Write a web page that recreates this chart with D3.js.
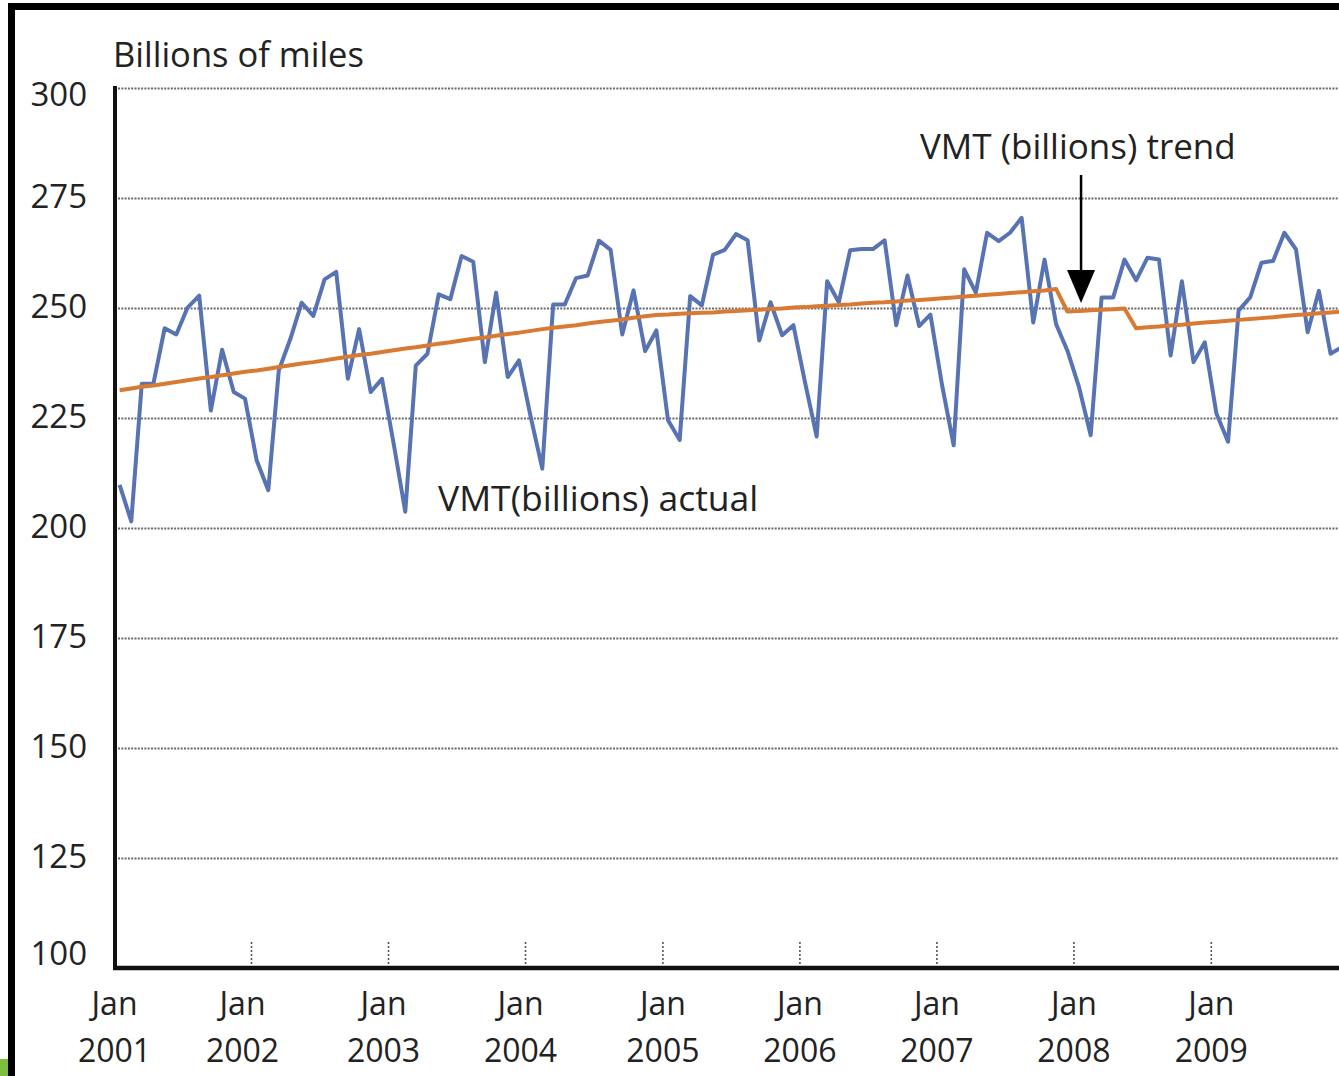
<!DOCTYPE html>
<html>
<head>
<meta charset="utf-8">
<script src="https://cdn.jsdelivr.net/npm/d3@7"></script>
<style>
  body { margin: 0; background: #fff; }
  #chart1 svg { display: block; }
  text { font-family: "Open Sans", sans-serif; fill: #222; }
</style>
</head>
<body>
<div id="chart1"></div>
<script>

// ================================ data (monthly, Jan 2001 - Dec 2009)
var startYear = 2001;

// VMT (billions) actual
var actualVmt = [
  209.8, 201.5, 232.8, 232.8, 245.4, 244.0, 250.1, 252.8, 226.7, 240.5, 230.9, 229.4, // 2001
  215.4, 208.6, 235.8, 243.0, 251.2, 248.2, 256.5, 258.2, 233.9, 245.2, 230.9, 233.9, // 2002
  219.2, 203.7, 236.9, 239.6, 253.1, 252.0, 261.8, 260.5, 237.7, 253.5, 234.3, 238.1, // 2003
  225.3, 213.5, 250.8, 250.8, 256.8, 257.4, 265.3, 263.2, 244.0, 254.0, 240.2, 244.9, // 2004
  224.5, 220.0, 252.7, 250.6, 262.1, 263.2, 266.8, 265.4, 242.6, 251.3, 243.8, 246.1, // 2005
  233.1, 220.8, 256.1, 251.3, 263.1, 263.4, 263.4, 265.4, 246.1, 257.4, 245.9, 248.5, // 2006
  232.5, 218.8, 258.8, 253.5, 267.1, 265.2, 267.1, 270.5, 246.7, 261.0, 246.3, 240.3, // 2007
  232.0, 221.1, 252.4, 252.4, 261.0, 256.3, 261.4, 261.0, 239.2, 256.1, 237.7, 242.2, // 2008
  226.0, 219.6, 249.4, 252.4, 260.3, 260.7, 267.1, 263.3, 244.5, 253.9, 239.6, 241.1  // 2009
];

// VMT (billions) trend
var trendVmt = [
  231.3, 231.7, 232.1, 232.4, 232.8, 233.2, 233.6, 234.0, 234.3, 234.7, 235.1, 235.5,
  235.8, 236.2, 236.6, 237.0, 237.4, 237.7, 238.1, 238.5, 238.9, 239.3, 239.6, 240.0,
  240.4, 240.8, 241.1, 241.5, 241.9, 242.2, 242.6, 243.0, 243.3, 243.7, 244.1, 244.4,
  244.8, 245.2, 245.5, 245.8, 246.1, 246.5, 246.8, 247.1, 247.4, 247.8, 248.1, 248.4,
  248.5, 248.7, 248.8, 248.9, 249.0, 249.2, 249.3, 249.5, 249.6, 249.8, 249.9, 250.1,
  250.2, 250.4, 250.5, 250.7, 250.8, 251.0, 251.2, 251.3, 251.5, 251.7, 251.8, 252.0,
  252.2, 252.4, 252.6, 252.8, 253.0, 253.2, 253.4, 253.6, 253.8, 254.0, 254.3, 249.2,
  249.3, 249.5, 249.6, 249.7, 249.9, 245.4, 245.6, 245.8, 246.0, 246.2, 246.5, 246.7,
  246.9, 247.1, 247.3, 247.5, 247.7, 247.9, 248.2, 248.4, 248.6, 248.8, 249.0, 249.2
];

var yTicks = [100, 125, 150, 175, 200, 225, 250, 275, 300];
var tickYears = [2001, 2002, 2003, 2004, 2005, 2006, 2007, 2008, 2009];
var tickMonth = "Jan";

var yTitle = "Billions of miles";
var actualLabel = "VMT(billions) actual";
var trendLabel = "VMT (billions) trend";

// ================================ layout
var svgWidth = 1339;
var svgHeight = 1076;

var chartMargin = {
  top: 88,
  right: 0,
  bottom: 108,
  left: 114
};

var chartWidth = svgWidth - chartMargin.left - chartMargin.right;
var chartHeight = svgHeight - chartMargin.top - chartMargin.bottom;

var pxPerYear = 137.1;

var blue = "#5873b3";
var orange = "#d97a33";

// data points sit in the middle of each month
var actualData = actualVmt.map((v, i) => ({ date: new Date(startYear, i, 16), value: v }));
var trendData = trendVmt.map((v, i) => ({ date: new Date(startYear, i, 16), value: v }));

var svg = d3.select("#chart1")
  .append("svg")
  .attr("width", svgWidth)
  .attr("height", svgHeight);

svg.append("rect")
  .attr("width", svgWidth)
  .attr("height", svgHeight)
  .attr("fill", "white");

// black frame (right and bottom are cut off in the original)
svg.append("rect")
  .attr("x", 11.5)
  .attr("y", 6.5)
  .attr("width", svgWidth + 40)
  .attr("height", svgHeight + 40)
  .style("fill", "none")
  .style("stroke", "black")
  .style("stroke-width", 7);

// little green patch in the bottom-left corner
svg.append("rect")
  .attr("x", 0)
  .attr("y", 1059)
  .attr("width", 8)
  .attr("height", 17)
  .attr("fill", "#7dbf3f");

var chartGroup = svg.append("g")
  .attr("transform", `translate(${chartMargin.left}, ${chartMargin.top})`);

// scales
var xTimeScale = d3.scaleTime()
  .domain([new Date(2001, 0, 1), new Date(2009, 0, 1)])
  .range([0, pxPerYear * 8]);

var yLinearScale = d3.scaleLinear()
  .domain([100, 300])
  .range([chartHeight, 0]);

// horizontal gridlines + left labels
var leftAxis = d3.axisLeft(yLinearScale)
  .tickValues(yTicks)
  .tickSize(-chartWidth)
  .tickPadding(27)
  .tickFormat(d3.format("d"));

var yAxisG = chartGroup.append("g")
  .call(leftAxis);

yAxisG.select(".domain").remove();
yAxisG.selectAll(".tick line")
  .attr("x1", 4)
  .style("stroke", d => d === 100 ? "none" : "#6a6a6a")
  .style("stroke-width", 1.8)
  .style("stroke-dasharray", "2,1.3");
yAxisG.selectAll(".tick text")
  .style("font-size", "33px")
  .style("fill", "#222")
  .attr("dy", d => d === 100 ? "-0.12em" : (d === 300 ? "0.52em" : "0.28em"));

// vertical ticks sitting on the bottom axis
var bottomAxis = d3.axisBottom(xTimeScale)
  .tickValues(tickYears.map(y => new Date(y, 0, 1)))
  .tickSize(-28)
  .tickPadding(0)
  .tickFormat("");

var xAxisG = chartGroup.append("g")
  .attr("transform", `translate(0, ${chartHeight})`)
  .call(bottomAxis);

xAxisG.select(".domain").remove();
xAxisG.selectAll(".tick line")
  .style("stroke", d => d.getFullYear() === 2001 ? "none" : "#555")
  .style("stroke-width", 1.6)
  .style("stroke-dasharray", "2,2");

// two line labels: "Jan" / year
var xLabels = xAxisG.selectAll(".tick")
  .append("text")
  .attr("text-anchor", "middle")
  .attr("transform", d => {
    var yr = d.getFullYear();
    if (yr === 2002) return "translate(-9,0)";
    if (yr === 2003 || yr === 2004) return "translate(-5,0)";
    return null;
  })
  .style("font-size", "32px")
  .style("fill", "#222");

xLabels.append("tspan")
  .attr("x", 0)
  .attr("y", 47)
  .text(tickMonth);

xLabels.append("tspan")
  .attr("x", 0)
  .attr("y", 94)
  .text(d => d.getFullYear());

// axis lines
chartGroup.append("line")
  .attr("x1", 1)
  .attr("x2", 1)
  .attr("y1", -2)
  .attr("y2", chartHeight + 2)
  .style("stroke", "#111")
  .style("stroke-width", 4);

chartGroup.append("line")
  .attr("x1", -1)
  .attr("x2", chartWidth + 10)
  .attr("y1", chartHeight)
  .attr("y2", chartHeight)
  .style("stroke", "#111")
  .style("stroke-width", 4.5);

// lines
var line = d3.line()
  .x(d => xTimeScale(d.date))
  .y(d => yLinearScale(d.value));

chartGroup.append("path")
  .datum(actualData)
  .attr("d", line)
  .style("fill", "none")
  .style("stroke", blue)
  .style("stroke-width", 4)
  .style("stroke-linejoin", "round");

chartGroup.append("path")
  .datum(trendData)
  .attr("d", line)
  .style("fill", "none")
  .style("stroke", orange)
  .style("stroke-width", 4)
  .style("stroke-linejoin", "round");

// axis title
svg.append("text")
  .attr("x", 113)
  .attr("y", 67)
  .style("font-size", "34.5px")
  .text(yTitle);

// annotations
chartGroup.append("text")
  .attr("x", 438 - chartMargin.left)
  .attr("y", 511 - chartMargin.top)
  .style("font-size", "35.5px")
  .text(actualLabel);

chartGroup.append("text")
  .attr("x", 920 - chartMargin.left)
  .attr("y", 159 - chartMargin.top)
  .style("font-size", "35px")
  .text(trendLabel);

// arrow pointing at the trend break
var arrowX = xTimeScale(trendData[84].date) + 2;
var arrowTip = yLinearScale(trendData[84].value) - 8;

chartGroup.append("line")
  .attr("x1", arrowX)
  .attr("x2", arrowX)
  .attr("y1", 175 - chartMargin.top)
  .attr("y2", arrowTip - 25)
  .style("stroke", "black")
  .style("stroke-width", 2.5);

chartGroup.append("path")
  .attr("d", `M${arrowX - 14},${arrowTip - 33} L${arrowX + 14},${arrowTip - 33} L${arrowX},${arrowTip} Z`)
  .style("fill", "black");

</script>
</body>
</html>
